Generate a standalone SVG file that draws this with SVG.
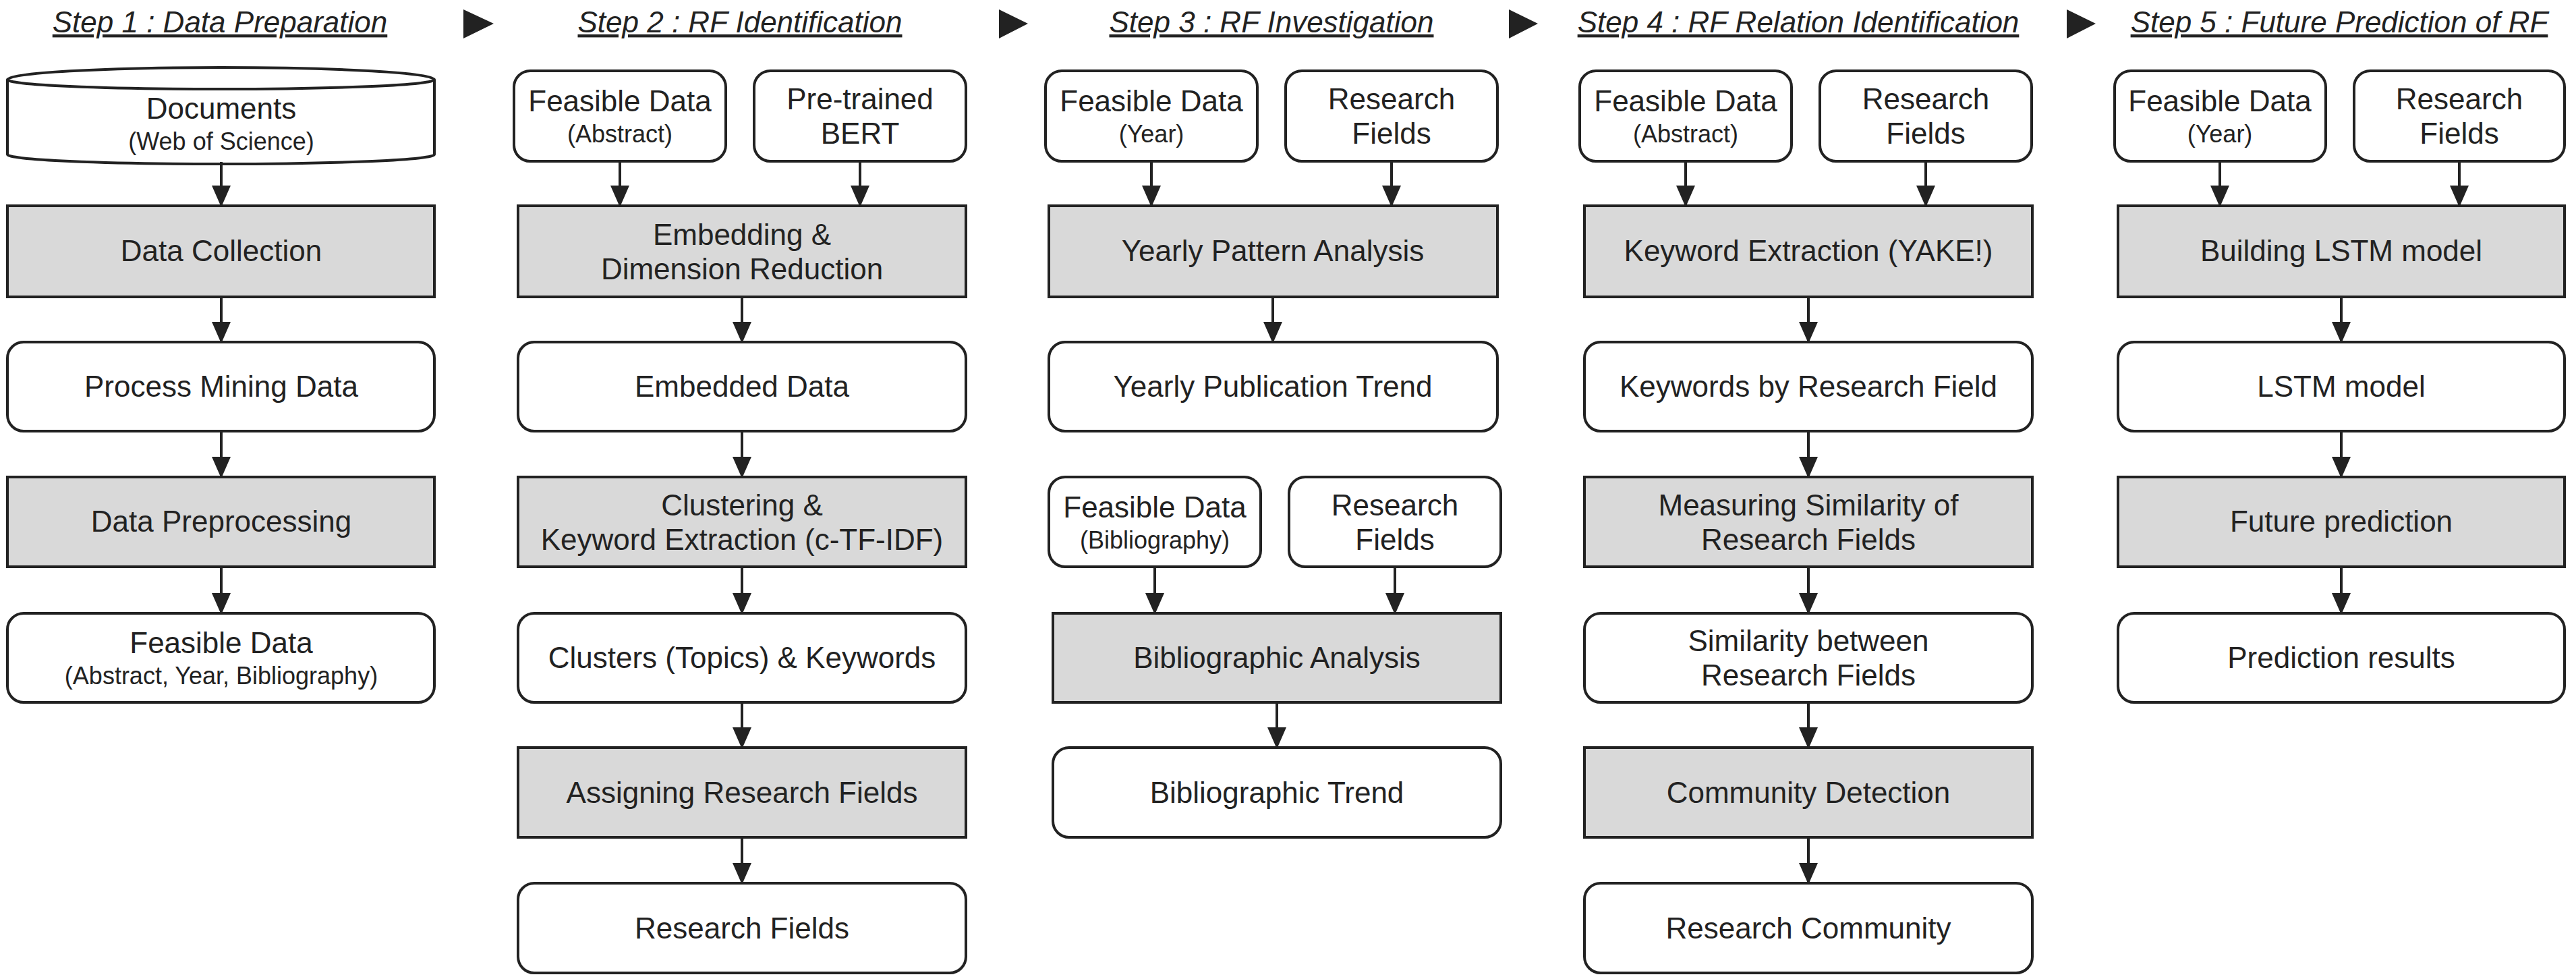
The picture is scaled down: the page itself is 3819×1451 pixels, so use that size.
<svg xmlns="http://www.w3.org/2000/svg" width="3819" height="1451" viewBox="0 0 3819 1451">
<style>
.w{fill:#fff;stroke:#222;stroke-width:4}
.g{fill:#d9d9d9;stroke:#222;stroke-width:4}
text{font-family:"Liberation Sans",Arial,sans-serif;fill:#222;text-anchor:middle}
.t{font-size:44px}
.s{font-size:36px}
.h{font-size:44px;font-style:italic;text-decoration:underline}
.c line{stroke:#222;stroke-width:4;marker-end:url(#a)}
</style>
<defs><marker id="a" markerWidth="8" markerHeight="7" refX="7" refY="3.5" orient="auto" markerUnits="strokeWidth"><path d="M0,0L8,3.5L0,7z" fill="#222"/></marker></defs>
<g id="headers">
<text class="h" x="326" y="48">Step 1 : Data Preparation</text>
<text class="h" x="1097" y="48">Step 2 : RF Identification</text>
<text class="h" x="1885" y="48">Step 3 : RF Investigation</text>
<text class="h" x="2666" y="48">Step 4 : RF Relation Identification</text>
<text class="h" x="3468" y="48">Step 5 : Future Prediction of RF</text>
<path d="M687,14L732,35L687,57z M1481,14L1524,35L1481,57z M2237,14L2280,35L2237,57z M3064,14L3107,35L3064,57z" fill="#222"/>
</g>
<g id="s1">
<g id="docs"><path class="w" d="M11,118 A316,18 0 0 1 644,118 L644,229 A316,14 0 0 1 11,229 Z"/><path d="M11,118 A316,14 0 0 0 644,118" fill="none" stroke="#222" stroke-width="4"/><text class="t" x="328" y="176">Documents</text><text class="s" x="328" y="222">(Web of Science)</text></g>
<g id="s1a"><rect class="g" x="11" y="305" width="633" height="135"/><text class="t" x="328" y="387">Data Collection</text></g>
<g id="s1b"><rect class="w" x="11" y="507" width="633" height="132" rx="24"/><text class="t" x="328" y="588">Process Mining Data</text></g>
<g id="s1c"><rect class="g" x="11" y="707" width="633" height="133"/><text class="t" x="328" y="788">Data Preprocessing</text></g>
<g id="s1d"><rect class="w" x="11" y="909" width="633" height="132" rx="24"/><text class="t" x="328" y="968">Feasible Data</text><text class="s" x="328" y="1014">(Abstract, Year, Bibliography)</text></g>
</g>
<g id="s2">
<g id="s2i1"><rect class="w" x="762" y="105" width="314" height="134" rx="24"/><text class="t" x="919" y="165">Feasible Data</text><text class="s" x="919" y="211">(Abstract)</text></g>
<g id="s2i2"><rect class="w" x="1118" y="105" width="314" height="134" rx="24"/><text class="t" x="1275" y="162">Pre-trained</text><text class="t" x="1275" y="213">BERT</text></g>
<g id="s2a"><rect class="g" x="768" y="305" width="664" height="135"/><text class="t" x="1100" y="363">Embedding &amp;</text><text class="t" x="1100" y="414">Dimension Reduction</text></g>
<g id="s2b"><rect class="w" x="768" y="507" width="664" height="132" rx="24"/><text class="t" x="1100" y="588">Embedded Data</text></g>
<g id="s2c"><rect class="g" x="768" y="707" width="664" height="133"/><text class="t" x="1100" y="764">Clustering &amp;</text><text class="t" x="1100" y="815">Keyword Extraction (c-TF-IDF)</text></g>
<g id="s2d"><rect class="w" x="768" y="909" width="664" height="132" rx="24"/><text class="t" x="1100" y="990">Clusters (Topics) &amp; Keywords</text></g>
<g id="s2e"><rect class="g" x="768" y="1108" width="664" height="133"/><text class="t" x="1100" y="1190">Assigning Research Fields</text></g>
<g id="s2f"><rect class="w" x="768" y="1309" width="664" height="133" rx="24"/><text class="t" x="1100" y="1391">Research Fields</text></g>
</g>
<g id="s3">
<g id="s3i1"><rect class="w" x="1550" y="105" width="314" height="134" rx="24"/><text class="t" x="1707" y="165">Feasible Data</text><text class="s" x="1707" y="211">(Year)</text></g>
<g id="s3i2"><rect class="w" x="1906" y="105" width="314" height="134" rx="24"/><text class="t" x="2063" y="162">Research</text><text class="t" x="2063" y="213">Fields</text></g>
<g id="s3a"><rect class="g" x="1555" y="305" width="665" height="135"/><text class="t" x="1887" y="387">Yearly Pattern Analysis</text></g>
<g id="s3b"><rect class="w" x="1555" y="507" width="665" height="132" rx="24"/><text class="t" x="1887" y="588">Yearly Publication Trend</text></g>
<g id="s3i3"><rect class="w" x="1555" y="707" width="314" height="133" rx="24"/><text class="t" x="1712" y="767">Feasible Data</text><text class="s" x="1712" y="813">(Bibliography)</text></g>
<g id="s3i4"><rect class="w" x="1911" y="707" width="314" height="133" rx="24"/><text class="t" x="2068" y="764">Research</text><text class="t" x="2068" y="815">Fields</text></g>
<g id="s3c"><rect class="g" x="1561" y="909" width="664" height="132"/><text class="t" x="1893" y="990">Bibliographic Analysis</text></g>
<g id="s3d"><rect class="w" x="1561" y="1108" width="664" height="133" rx="24"/><text class="t" x="1893" y="1190">Bibliographic Trend</text></g>
</g>
<g id="s4">
<g id="s4i1"><rect class="w" x="2342" y="105" width="314" height="134" rx="24"/><text class="t" x="2499" y="165">Feasible Data</text><text class="s" x="2499" y="211">(Abstract)</text></g>
<g id="s4i2"><rect class="w" x="2698" y="105" width="314" height="134" rx="24"/><text class="t" x="2855" y="162">Research</text><text class="t" x="2855" y="213">Fields</text></g>
<g id="s4a"><rect class="g" x="2349" y="305" width="664" height="135"/><text class="t" x="2681" y="387">Keyword Extraction (YAKE!)</text></g>
<g id="s4b"><rect class="w" x="2349" y="507" width="664" height="132" rx="24"/><text class="t" x="2681" y="588">Keywords by Research Field</text></g>
<g id="s4c"><rect class="g" x="2349" y="707" width="664" height="133"/><text class="t" x="2681" y="764">Measuring Similarity of</text><text class="t" x="2681" y="815">Research Fields</text></g>
<g id="s4d"><rect class="w" x="2349" y="909" width="664" height="132" rx="24"/><text class="t" x="2681" y="965">Similarity between</text><text class="t" x="2681" y="1016">Research Fields</text></g>
<g id="s4e"><rect class="g" x="2349" y="1108" width="664" height="133"/><text class="t" x="2681" y="1190">Community Detection</text></g>
<g id="s4f"><rect class="w" x="2349" y="1309" width="664" height="133" rx="24"/><text class="t" x="2681" y="1391">Research Community</text></g>
</g>
<g id="s5">
<g id="s5i1"><rect class="w" x="3135" y="105" width="313" height="134" rx="24"/><text class="t" x="3291" y="165">Feasible Data</text><text class="s" x="3291" y="211">(Year)</text></g>
<g id="s5i2"><rect class="w" x="3490" y="105" width="312" height="134" rx="24"/><text class="t" x="3646" y="162">Research</text><text class="t" x="3646" y="213">Fields</text></g>
<g id="s5a"><rect class="g" x="3140" y="305" width="662" height="135"/><text class="t" x="3471" y="387">Building LSTM model</text></g>
<g id="s5b"><rect class="w" x="3140" y="507" width="662" height="132" rx="24"/><text class="t" x="3471" y="588">LSTM model</text></g>
<g id="s5c"><rect class="g" x="3140" y="707" width="662" height="133"/><text class="t" x="3471" y="788">Future prediction</text></g>
<g id="s5d"><rect class="w" x="3140" y="909" width="662" height="132" rx="24"/><text class="t" x="3471" y="990">Prediction results</text></g>
</g>
<g id="connectors" class="c">
<line x1="328" y1="240" x2="328" y2="303"/><line x1="328" y1="440" x2="328" y2="505"/><line x1="328" y1="639" x2="328" y2="705"/><line x1="328" y1="840" x2="328" y2="907"/>
<line x1="919" y1="239" x2="919" y2="303"/><line x1="1275" y1="239" x2="1275" y2="303"/><line x1="1100" y1="440" x2="1100" y2="505"/><line x1="1100" y1="639" x2="1100" y2="705"/><line x1="1100" y1="840" x2="1100" y2="907"/><line x1="1100" y1="1041" x2="1100" y2="1106"/><line x1="1100" y1="1241" x2="1100" y2="1307"/>
<line x1="1707" y1="239" x2="1707" y2="303"/><line x1="2063" y1="239" x2="2063" y2="303"/><line x1="1887" y1="440" x2="1887" y2="505"/><line x1="1712" y1="840" x2="1712" y2="907"/><line x1="2068" y1="840" x2="2068" y2="907"/><line x1="1893" y1="1041" x2="1893" y2="1106"/>
<line x1="2499" y1="239" x2="2499" y2="303"/><line x1="2855" y1="239" x2="2855" y2="303"/><line x1="2681" y1="440" x2="2681" y2="505"/><line x1="2681" y1="639" x2="2681" y2="705"/><line x1="2681" y1="840" x2="2681" y2="907"/><line x1="2681" y1="1041" x2="2681" y2="1106"/><line x1="2681" y1="1241" x2="2681" y2="1307"/>
<line x1="3291" y1="239" x2="3291" y2="303"/><line x1="3646" y1="239" x2="3646" y2="303"/><line x1="3471" y1="440" x2="3471" y2="505"/><line x1="3471" y1="639" x2="3471" y2="705"/><line x1="3471" y1="840" x2="3471" y2="907"/>
</g>
</svg>
